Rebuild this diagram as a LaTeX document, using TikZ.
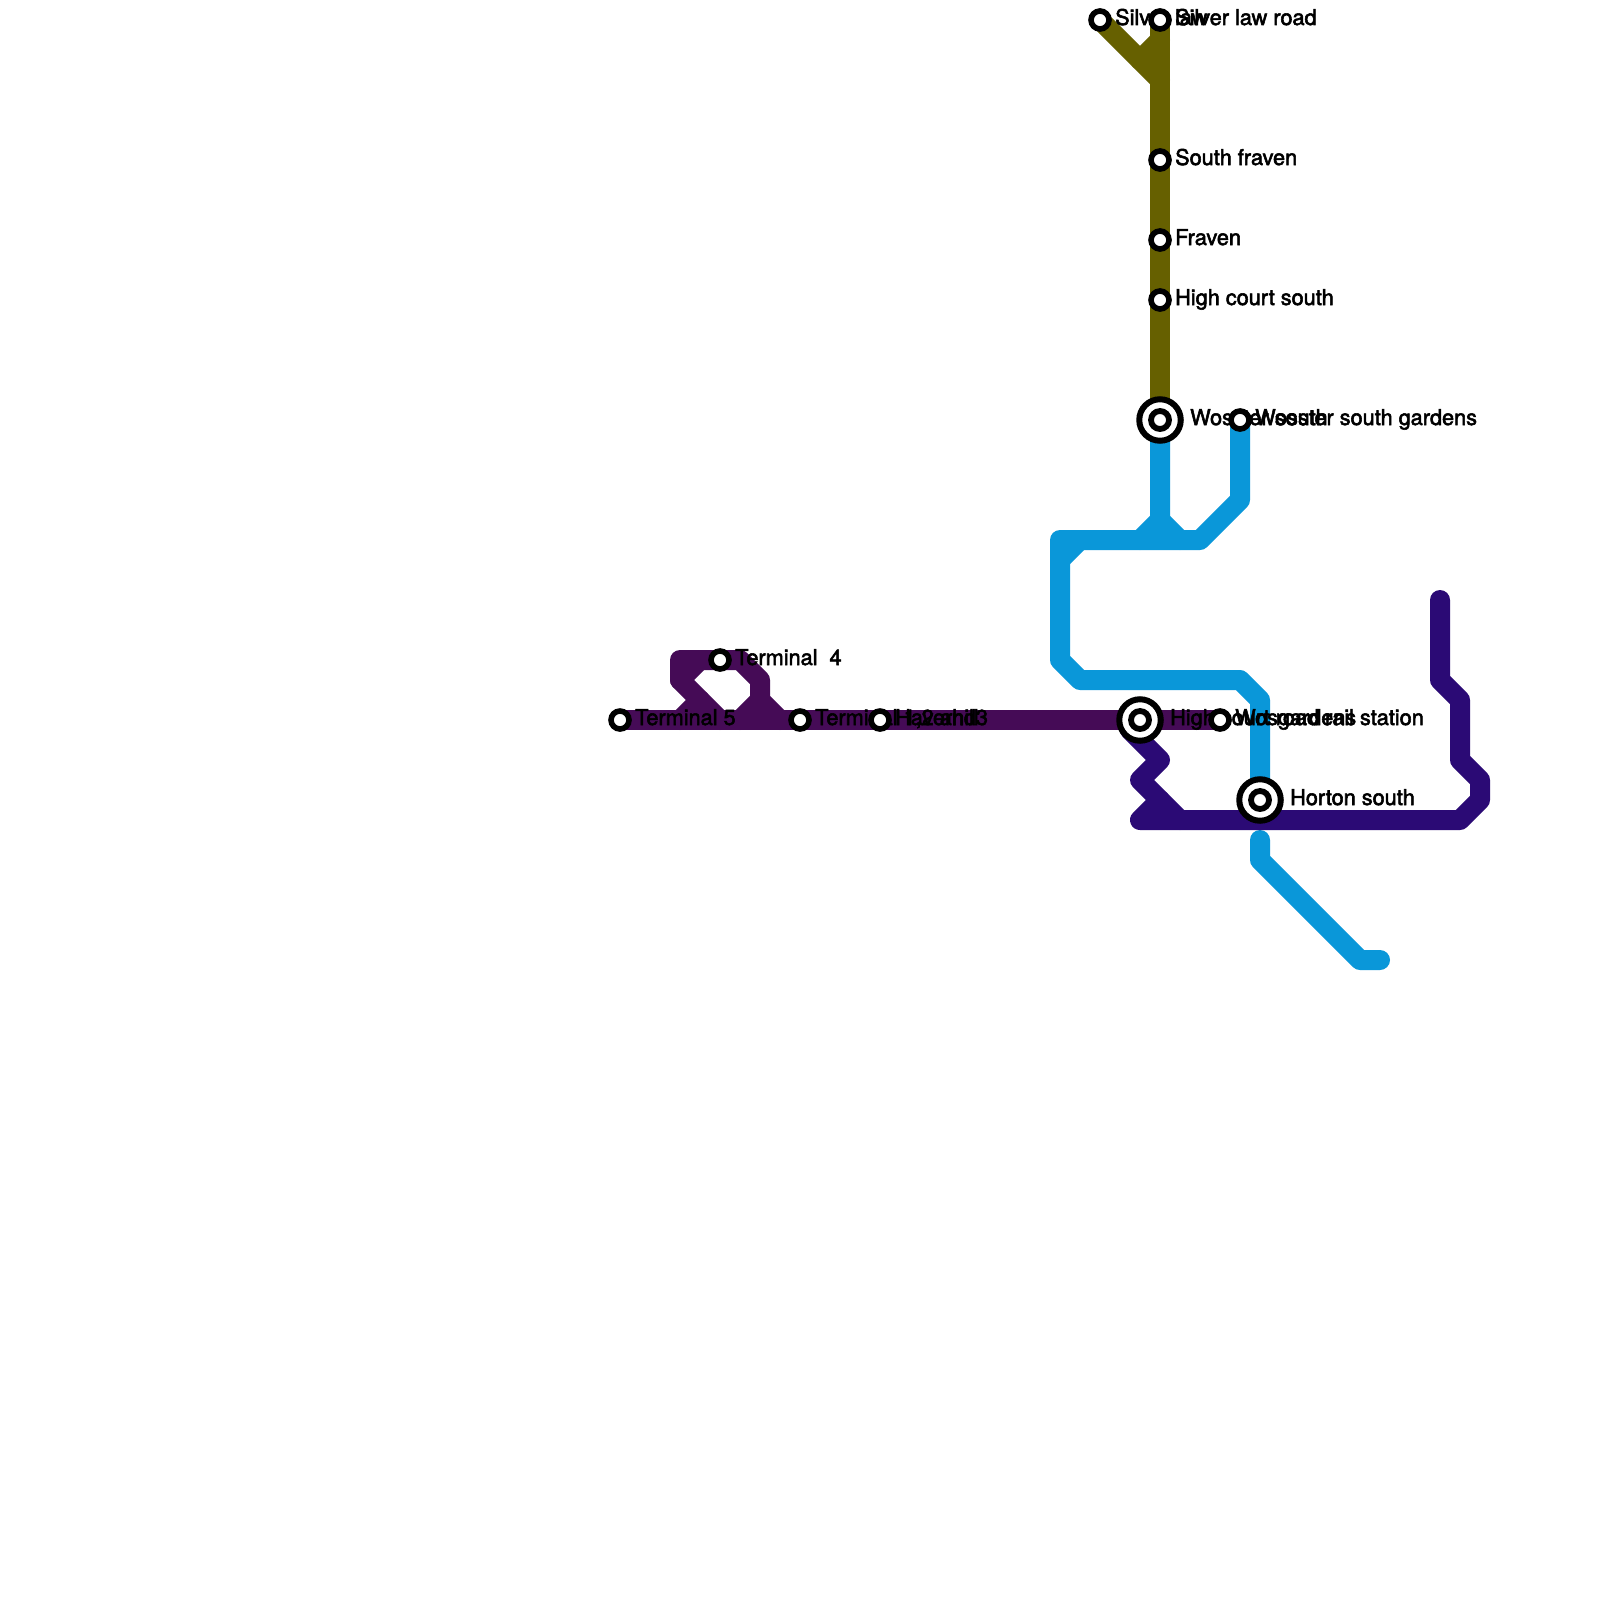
\documentclass[tikz,border=0pt]{standalone}
\usepackage{fontspec}
\setmainfont[FakeBold=2.5]{TeX Gyre Heros}
\definecolor{lpurple}{HTML}{450B56}
\definecolor{lolive}{HTML}{666000}
\definecolor{lblue}{HTML}{0A97D9}
\definecolor{lnavy}{HTML}{2B0A75}
\tikzset{
  metro/.style={line width=20pt,line join=round,line cap=round},
  stop/.style={circle,draw=black,fill=white,line width=5.6pt,minimum size=18pt,inner sep=0pt},
  interchange/.style={circle,draw=black,fill=white,line width=6pt,minimum size=41.5pt,inner sep=0pt,
    path picture={\draw[black,fill=white,line width=5.8pt] (path picture bounding box.center) circle (9pt);}},
  lab/.style={anchor=base west,inner sep=0pt,font=\fontsize{21.7}{22}\selectfont,text=black,yshift=-5pt},
}
\begin{document}
\begin{tikzpicture}[x=1pt,y=-1pt]
\useasboundingbox[fill=white] (0,0) rectangle (1600,1600);
% station positions
\coordinate (silverlaw) at (1100,20);
\coordinate (silverroad) at (1160,20);
\coordinate (southfraven) at (1160,160);
\coordinate (fraven) at (1160,240);
\coordinate (highsouth) at (1160,300);
\coordinate (wsouth) at (1160,420);
\coordinate (wgardens) at (1240,420);
\coordinate (term4) at (720,660);
\coordinate (term5) at (620,720);
\coordinate (term123) at (800,720);
\coordinate (haver) at (880,720);
\coordinate (highcourt) at (1140,720);
\coordinate (wos) at (1220,720);
\coordinate (horton) at (1260,800);
% purple
\draw[metro,lpurple,line cap=butt] (term5) -- (wos);
\draw[metro,lpurple] (720,720) -- (680,680) -- (680,660) -- (term4) -- (740,660) -- (760,680) -- (760,700) -- (780,720);
\draw[metro,lpurple] (700,660) -- (680,680);
\draw[metro,lpurple] (700,700) -- (680,720);
\draw[metro,lpurple] (760,700) -- (740,720);
% olive
\draw[metro,lolive,line cap=butt] (silverroad) -- (wsouth);
\draw[metro,lolive] (silverlaw) -- (1160,80);
\draw[metro,lolive] (1160,40) -- (1140,60);
% blue
\draw[metro,lblue] (wgardens) -- (1240,500) -- (1200,540) -- (1060,540) -- (1060,660) -- (1080,680) -- (1240,680) -- (1260,700) -- (horton);
\draw[metro,lblue] (wsouth) -- (1160,520) -- (1140,540);
\draw[metro,lblue] (1160,520) -- (1180,540);
\draw[metro,lblue] (1080,540) -- (1060,560);
\draw[metro,lblue] (1260,840) -- (1260,860) -- (1360,960) -- (1380,960);
% navy
\draw[metro,lnavy] (1130,730) -- (1160,760) -- (1140,780) -- (1180,820);
\draw[metro,lnavy] (1440,600) -- (1440,680) -- (1460,700) -- (1460,760) -- (1480,780) -- (1480,800) -- (1460,820) -- (1140,820) -- (1160,800);
% labels
\node[lab] (lsilverlaw) at (1115,20) {Silver law};
\node[lab] (lsilverroad) at (1175,20) {Silver law road};
\node[lab] (lsouthfraven) at (1175,160) {South fraven};
\node[lab] (lfraven) at (1175,240) {Fraven};
\node[lab] (lhighsouth) at (1175,300) {High court south};
\node[lab] (lwsouth) at (1190,420) {Wosster south};
\node[lab] (lwgardens) at (1255,420) {Wosster south gardens};
\node[lab] (lterm4) at (735,660) {Terminal\ \ 4};
\node[lab] (lterm5) at (635,720) {Terminal 5};
\node[lab] (lterm123) at (815,720) {Terminal 1,2 and3};
\node[lab] (lhaver) at (895,720) {Haverhill};
\node[lab] (lhighcourt) at (1170,720) {High court road rail station};
\node[lab] (lwos) at (1235,720) {Wosgardens};
\node[lab] (lhorton) at (1290,800) {Horton south};
% stations
\node[stop] (ssilverlaw) at (silverlaw) {};
\node[stop] (ssilverroad) at (silverroad) {};
\node[stop] (ssouthfraven) at (southfraven) {};
\node[stop] (sfraven) at (fraven) {};
\node[stop] (shighsouth) at (highsouth) {};
\node[interchange] (swsouth) at (wsouth) {};
\node[stop] (swgardens) at (wgardens) {};
\node[stop] (sterm4) at (term4) {};
\node[stop] (sterm5) at (term5) {};
\node[stop] (sterm123) at (term123) {};
\node[stop] (shaver) at (haver) {};
\node[interchange] (shighcourt) at (highcourt) {};
\node[stop] (swos) at (wos) {};
\node[interchange] (shorton) at (horton) {};
\end{tikzpicture}
\end{document}
